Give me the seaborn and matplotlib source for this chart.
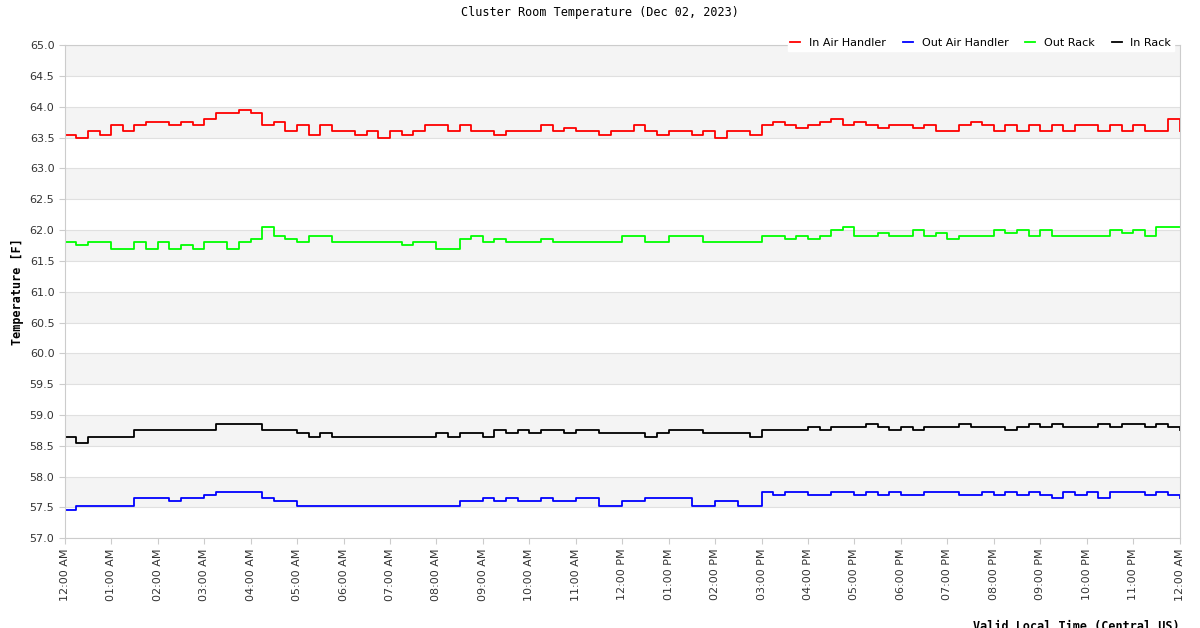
import matplotlib
matplotlib.use("Agg")
import matplotlib.pyplot as plt
import seaborn as sns
import pandas as pd
import numpy as np

in_air = [63.55,63.5,63.6,63.55, 63.7,63.6,63.7,63.75, 63.75,63.7,63.75,63.7, 63.8,63.9,63.9,63.95,
          63.9,63.7,63.75,63.6, 63.7,63.55,63.7,63.6, 63.6,63.55,63.6,63.5, 63.6,63.55,63.6,63.7,
          63.7,63.6,63.7,63.6, 63.6,63.55,63.6,63.6, 63.6,63.7,63.6,63.65, 63.6,63.6,63.55,63.6,
          63.6,63.7,63.6,63.55, 63.6,63.6,63.55,63.6, 63.5,63.6,63.6,63.55, 63.7,63.75,63.7,63.65,
          63.7,63.75,63.8,63.7, 63.75,63.7,63.65,63.7, 63.7,63.65,63.7,63.6, 63.6,63.7,63.75,63.7,
          63.6,63.7,63.6,63.7, 63.6,63.7,63.6,63.7, 63.7,63.6,63.7,63.6, 63.7,63.6,63.6,63.8, 63.6]
out_rack = [61.8,61.75,61.8,61.8, 61.7,61.7,61.8,61.7, 61.8,61.7,61.75,61.7, 61.8,61.8,61.7,61.8,
            61.85,62.05,61.9,61.85, 61.8,61.9,61.9,61.8, 61.8,61.8,61.8,61.8, 61.8,61.75,61.8,61.8,
            61.7,61.7,61.85,61.9, 61.8,61.85,61.8,61.8, 61.8,61.85,61.8,61.8, 61.8,61.8,61.8,61.8,
            61.9,61.9,61.8,61.8, 61.9,61.9,61.9,61.8, 61.8,61.8,61.8,61.8, 61.9,61.9,61.85,61.9,
            61.85,61.9,62.0,62.05, 61.9,61.9,61.95,61.9, 61.9,62.0,61.9,61.95, 61.85,61.9,61.9,61.9,
            62.0,61.95,62.0,61.9, 62.0,61.9,61.9,61.9, 61.9,61.9,62.0,61.95, 62.0,61.9,62.05,62.05, 62.05]
in_rack = [58.65,58.55,58.65,58.65, 58.65,58.65,58.75,58.75, 58.75,58.75,58.75,58.75, 58.75,58.85,58.85,58.85,
           58.85,58.75,58.75,58.75, 58.7,58.65,58.7,58.65, 58.65,58.65,58.65,58.65, 58.65,58.65,58.65,58.65,
           58.7,58.65,58.7,58.7, 58.65,58.75,58.7,58.75, 58.7,58.75,58.75,58.7, 58.75,58.75,58.7,58.7,
           58.7,58.7,58.65,58.7, 58.75,58.75,58.75,58.7, 58.7,58.7,58.7,58.65, 58.75,58.75,58.75,58.75,
           58.8,58.75,58.8,58.8, 58.8,58.85,58.8,58.75, 58.8,58.75,58.8,58.8, 58.8,58.85,58.8,58.8,
           58.8,58.75,58.8,58.85, 58.8,58.85,58.8,58.8, 58.8,58.85,58.8,58.85, 58.85,58.8,58.85,58.8, 58.75]
out_air = [57.45,57.53,57.53,57.53, 57.53,57.53,57.65,57.65, 57.65,57.6,57.65,57.65, 57.7,57.75,57.75,57.75,
           57.75,57.65,57.6,57.6, 57.53,57.53,57.53,57.53, 57.53,57.53,57.53,57.53, 57.53,57.53,57.53,57.53,
           57.53,57.53,57.6,57.6, 57.65,57.6,57.65,57.6, 57.6,57.65,57.6,57.6, 57.65,57.65,57.53,57.53,
           57.6,57.6,57.65,57.65, 57.65,57.65,57.53,57.53, 57.6,57.6,57.53,57.53, 57.75,57.7,57.75,57.75,
           57.7,57.7,57.75,57.75, 57.7,57.75,57.7,57.75, 57.7,57.7,57.75,57.75, 57.75,57.7,57.7,57.75,
           57.7,57.75,57.7,57.75, 57.7,57.65,57.75,57.7, 57.75,57.65,57.75,57.75, 57.75,57.7,57.75,57.7, 57.65]

series_names = ["In Air Handler", "Out Air Handler", "Out Rack", "In Rack"]
series_vals = [in_air, out_air, out_rack, in_rack]
colors = ["#ff0000", "#0000ff", "#00ff00", "#000000"]
tick_labels = ["12:00 AM"] + [f"{h:02d}:00 AM" for h in range(1, 12)] + ["12:00 PM"] + \
              [f"{h:02d}:00 PM" for h in range(1, 12)] + ["12:00 AM"]

minutes = np.arange(len(in_air)) * 15
rows = []
for name, vals in zip(series_names, series_vals):
    for m, v in zip(minutes, vals):
        rows.append((m, v, name))
df = pd.DataFrame(rows, columns=["t", "temp", "series"])

fig = plt.figure(figsize=(12, 6.28), dpi=100)
ax = fig.add_axes([0.054, 0.143, 0.929, 0.785])
for lo in np.arange(57.5, 65, 1.0):
    ax.axhspan(lo, lo + 0.5, color="#f4f4f4", zorder=0, lw=0)
for y in np.arange(57, 65.01, 0.5):
    ax.axhline(y, color="#e0e0e0", lw=0.8, zorder=0.5)

sns.lineplot(data=df, x="t", y="temp", hue="series", hue_order=series_names,
             palette=colors, drawstyle="steps-post", lw=1.3, ax=ax)
ax.set_xlim(0, 1440)
ax.set_ylim(57, 65)
ax.set_yticks(np.arange(57, 65.01, 0.5))
ax.set_yticklabels([f"{v:.1f}" for v in np.arange(57, 65.01, 0.5)], fontsize=8, color="#333333")
ax.set_xticks(np.arange(0, 1441, 60))
ax.set_xticklabels(tick_labels, rotation=90, fontsize=8, color="#333333")
for s in ax.spines.values():
    s.set_color("#cccccc")
ax.tick_params(colors="#cccccc", labelcolor="#333333", length=4)
ax.set_xlabel("Valid Local Time (Central US)", family="DejaVu Sans Mono", fontsize=8.5, fontweight="bold")
ax.xaxis.set_label_coords(1.0, -0.165)
ax.xaxis.label.set_horizontalalignment("right")
ax.set_ylabel("Temperature [F]", family="DejaVu Sans Mono", fontsize=8.5, fontweight="bold")
fig.suptitle("Cluster Room Temperature (Dec 02, 2023)", family="DejaVu Sans Mono", fontsize=8.5, y=0.99)
leg = ax.legend(loc="center right", bbox_to_anchor=(1.0, 1.005), ncol=4, frameon=True, fontsize=8,
                handlelength=0.9, columnspacing=1.5, borderpad=0.25, fancybox=False)
leg.get_frame().set_edgecolor("white")
leg.get_frame().set_alpha(1)
fig.savefig("out.png", dpi=100)
